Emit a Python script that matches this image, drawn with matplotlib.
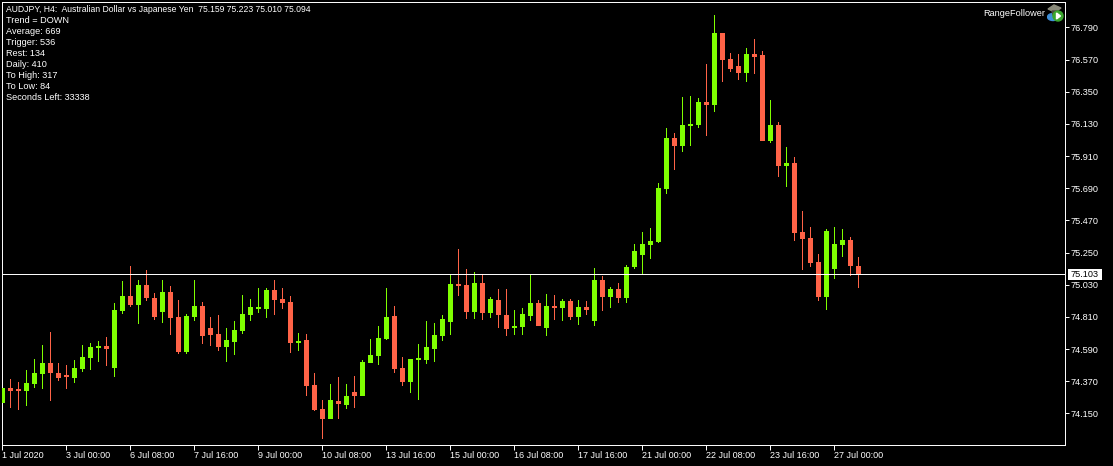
# AUDJPY H4 candle chart, MT4 look
import matplotlib
matplotlib.use('Agg')
import numpy as np
import matplotlib.pyplot as plt
from matplotlib.patches import Circle, Ellipse, Polygon, Rectangle

plt.rcParams['font.family'] = ['Liberation Sans', 'DejaVu Sans']

opens = [74.220, 74.322, 74.309, 74.302, 74.350, 74.418, 74.493, 74.425, 74.411, 74.391,
         74.452, 74.528, 74.596, 74.610, 74.459, 74.849, 74.952, 74.890, 75.027, 74.938,
         74.842, 74.979, 74.808, 74.569, 74.808, 74.883, 74.733, 74.692, 74.603, 74.637,
         74.712, 74.822, 74.863, 74.863, 74.993, 74.931, 74.911, 74.630, 74.651, 74.343,
         74.179, 74.110, 74.234, 74.206, 74.295, 74.268, 74.493, 74.541, 74.658, 74.815,
         74.459, 74.364, 74.514, 74.514, 74.590, 74.679, 74.774, 75.034, 75.028, 74.843,
         75.041, 74.836, 74.925, 74.822, 74.733, 74.740, 74.816, 74.904, 74.733, 74.884,
         74.870, 74.918, 74.809, 74.877, 74.781, 75.062, 74.945, 75.000, 74.939, 75.151,
         75.233, 75.301, 75.322, 75.684, 76.033, 75.978, 76.115, 76.122, 76.279, 76.259,
         76.751, 76.573, 76.526, 76.478, 76.608, 76.601, 76.013, 76.122, 75.842, 75.862,
         75.390, 75.349, 75.185, 74.945, 75.137, 75.301, 75.335, 75.159]
highs = [74.322, 74.384, 74.364, 74.446, 74.521, 74.617, 74.706, 74.493, 74.480, 74.514,
         74.617, 74.630, 74.644, 74.671, 74.904, 75.054, 75.157, 75.061, 75.130, 74.972,
         75.061, 75.020, 74.924, 74.829, 75.061, 74.911, 74.808, 74.822, 74.733, 74.781,
         74.959, 74.931, 75.006, 75.006, 75.061, 75.006, 74.952, 74.699, 74.692, 74.425,
         74.240, 74.350, 74.398, 74.350, 74.405, 74.514, 74.658, 74.747, 75.006, 74.883,
         74.535, 74.521, 74.623, 74.781, 74.768, 74.822, 75.096, 75.274, 75.137, 75.117,
         75.103, 74.946, 75.000, 75.000, 74.857, 74.870, 75.096, 74.925, 74.966, 74.959,
         74.932, 74.932, 74.925, 74.918, 75.144, 75.089, 75.014, 75.041, 75.164, 75.308,
         75.390, 75.417, 75.725, 76.101, 76.067, 76.314, 76.320, 76.307, 76.539, 76.874,
         76.751, 76.614, 76.608, 76.649, 76.710, 76.628, 76.293, 76.143, 75.972, 75.903,
         75.534, 75.424, 75.240, 75.411, 75.424, 75.411, 75.356, 75.223]
lows = [74.220, 74.186, 74.172, 74.199, 74.322, 74.316, 74.234, 74.370, 74.316, 74.357,
        74.432, 74.446, 74.500, 74.473, 74.398, 74.829, 74.877, 74.760, 74.918, 74.788,
        74.767, 74.685, 74.555, 74.555, 74.781, 74.623, 74.610, 74.576, 74.500, 74.548,
        74.692, 74.781, 74.835, 74.801, 74.822, 74.863, 74.562, 74.576, 74.268, 74.165,
        73.974, 74.110, 74.110, 74.179, 74.186, 74.268, 74.493, 74.480, 74.651, 74.425,
        74.336, 74.288, 74.240, 74.487, 74.501, 74.645, 74.686, 74.952, 74.795, 74.795,
        74.788, 74.802, 74.733, 74.679, 74.686, 74.686, 74.781, 74.747, 74.679, 74.788,
        74.781, 74.788, 74.754, 74.822, 74.747, 74.850, 74.870, 74.904, 74.904, 75.137,
        75.096, 75.205, 75.315, 75.650, 75.814, 75.937, 75.978, 76.101, 76.047, 76.211,
        76.416, 76.485, 76.430, 76.416, 76.471, 76.013, 75.999, 75.766, 75.698, 75.329,
        75.130, 75.151, 74.918, 74.857, 75.069, 75.219, 75.089, 75.010]
closes = [74.322, 74.302, 74.302, 74.357, 74.425, 74.493, 74.425, 74.391, 74.398, 74.459,
          74.535, 74.603, 74.610, 74.589, 74.856, 74.952, 74.890, 75.027, 74.938, 74.808,
          74.979, 74.801, 74.569, 74.815, 74.883, 74.678, 74.685, 74.603, 74.651, 74.719,
          74.829, 74.877, 74.870, 74.993, 74.924, 74.904, 74.630, 74.644, 74.336, 74.172,
          74.110, 74.240, 74.213, 74.268, 74.268, 74.500, 74.548, 74.664, 74.808, 74.452,
          74.364, 74.521, 74.521, 74.603, 74.686, 74.795, 75.034, 75.021, 74.843, 75.041,
          74.836, 74.932, 74.822, 74.727, 74.747, 74.829, 74.904, 74.747, 74.884, 74.870,
          74.918, 74.809, 74.877, 74.857, 75.062, 74.945, 75.000, 74.939, 75.151, 75.260,
          75.308, 75.329, 75.691, 76.033, 75.978, 76.122, 76.129, 76.279, 76.259, 76.751,
          76.567, 76.505, 76.478, 76.608, 76.587, 76.013, 76.122, 75.842, 75.862, 75.383,
          75.342, 75.178, 74.945, 75.397, 75.308, 75.335, 75.158, 75.094]

last_price = 75.103
price_ticks = [74.15, 74.37, 74.59, 74.81, 75.03, 75.25, 75.47, 75.69, 75.91, 76.13, 76.35, 76.57, 76.79]
date_labels = ['1 Jul 2020', '3 Jul 00:00', '6 Jul 08:00', '7 Jul 16:00', '9 Jul 00:00',
               '10 Jul 08:00', '13 Jul 16:00', '15 Jul 00:00', '16 Jul 08:00', '17 Jul 16:00',
               '21 Jul 00:00', '22 Jul 08:00', '23 Jul 16:00', '27 Jul 00:00']
info_lines = ['AUDJPY, H4:  Australian Dollar vs Japanese Yen  75.159 75.223 75.010 75.094',
              'Trend = DOWN', 'Average: 669', 'Trigger: 536', 'Rest: 134', 'Daily: 410',
              'To High: 317', 'To Low: 84', 'Seconds Left: 33338']

W, H = 1113, 466
GREEN = '#7FFF00'
RED = '#FF6347'
FS = 6.6
LW = 0.71  # just under one pixel

fig = plt.figure(figsize=(W / 100, H / 100), dpi=100, facecolor='black')
# the 0.4 offsets make the snapped 1px lines land on the same rows/columns as the terminal
ax = fig.add_axes([2.4 / W, 1 - 445.4 / H, 1063 / W, 443 / H], facecolor='black')

o = np.array(opens)
c = np.array(closes)
l = np.array(lows)
h = np.array(highs)
x = np.arange(len(o))
col = [GREEN if b >= a else RED for a, b in zip(o, c)]
# open/close rows very close together still get a visible body
body = np.maximum(np.abs(c - o), 0.012)

# wicks as 1px wide bars, vlines came out dim
ax.bar(x, h - l, bottom=l, width=0.125, color=col, linewidth=0, zorder=2, snap=True)
ax.bar(x, body, bottom=np.minimum(o, c), width=0.625, color=col, linewidth=0, zorder=3, snap=True)
ax.axhline(last_price, color='white', linewidth=LW, zorder=4, snap=True)

ax.set_xlim(0, 1063 / 8)
ax.set_ylim(74.15 - 32 / 146.2, 76.79 + 25 / 146.2)

for s in ax.spines.values():
    s.set_color('white')
    s.set_linewidth(LW)
    s.set_snap(True)

ax.yaxis.tick_right()
ax.set_yticks(price_ticks)
ax.set_yticklabels(['%.3f' % p for p in price_ticks])
ax.set_xticks(np.arange(len(date_labels)) * 8)
ax.set_xticklabels(date_labels, ha='left')
ax.tick_params(axis='y', colors='white', labelsize=FS, length=3, width=LW, pad=0.5)
ax.tick_params(axis='x', colors='white', labelsize=6.45, length=3.6, width=LW, pad=0.2)

# top left info block
for i, line in enumerate(info_lines):
    fs = 6.25 if i == 0 else FS
    fig.text(6.5 / W, 1 - (9.8 + 11 * i) / H, line, color='white', fontsize=fs, va='center', ha='left')
fig.text(1045 / W, 1 - 13.5 / H, 'RangeFollower', color='white', fontsize=FS, va='center', ha='right')

# last price tag
fig.add_artist(Rectangle((1068 / W, 1 - 280 / H), 34 / W, 11 / H, transform=fig.transFigure,
                         facecolor='white', edgecolor='none', zorder=5))
fig.text(1085 / W, 1 - 274.5 / H, '%.3f' % last_price, color='black', fontsize=FS, va='center', ha='center', zorder=6)

# small expert icon
icon = fig.add_axes([1047 / W, 1 - 22 / H, 18 / W, 20 / H])
icon.set_xlim(0, 18)
icon.set_ylim(20, 0)
icon.axis('off')
icon.add_patch(Ellipse((6, 15), 11, 7, color='#3f8fd8'))
icon.add_patch(Polygon([[1, 7], [7, 3], [14, 6], [8, 10]], color='#8a8a7a'))
icon.add_patch(Polygon([[5, 9], [11, 9], [10, 13], [6, 13]], color='#4a4a40'))
icon.add_patch(Circle((11, 14), 5, color='#3aa62e'))
icon.add_patch(Polygon([[9.5, 11], [13.5, 14], [9.5, 17]], color='white'))

fig.savefig('out.png', dpi=100, facecolor='black')
